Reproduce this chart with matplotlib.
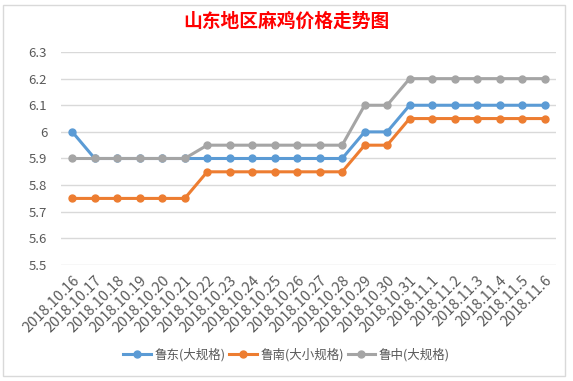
import matplotlib.pyplot as plt
from matplotlib.patches import Rectangle

plt.rcParams['font.family'] = ['Noto Sans CJK SC', 'DejaVu Sans']

dates = ['2018.10.16', '2018.10.17', '2018.10.18', '2018.10.19', '2018.10.20',
         '2018.10.21', '2018.10.22', '2018.10.23', '2018.10.24', '2018.10.25',
         '2018.10.26', '2018.10.27', '2018.10.28', '2018.10.29', '2018.10.30',
         '2018.10.31', '2018.11.1', '2018.11.2', '2018.11.3', '2018.11.4',
         '2018.11.5', '2018.11.6']
ludong = [6.0, 5.9, 5.9, 5.9, 5.9, 5.9, 5.9, 5.9, 5.9, 5.9, 5.9,
          5.9, 5.9, 6.0, 6.0, 6.1, 6.1, 6.1, 6.1, 6.1, 6.1, 6.1]
lunan = [5.75, 5.75, 5.75, 5.75, 5.75, 5.75, 5.85, 5.85, 5.85, 5.85, 5.85,
         5.85, 5.85, 5.95, 5.95, 6.05, 6.05, 6.05, 6.05, 6.05, 6.05, 6.05]
luzhong = [5.9, 5.9, 5.9, 5.9, 5.9, 5.9, 5.95, 5.95, 5.95, 5.95, 5.95,
           5.95, 5.95, 6.1, 6.1, 6.2, 6.2, 6.2, 6.2, 6.2, 6.2, 6.2]
names = ['鲁东(大规格)', '鲁南(大小规格)', '鲁中(大规格)']
colors = ['#5B9BD5', '#ED7D31', '#A5A5A5']

fig = plt.figure(figsize=(5.73, 3.81), dpi=100)
fig.patches.append(Rectangle((0.006, 0.012), 0.98, 0.975, transform=fig.transFigure,
                             fill=False, edgecolor='#D9D9D9', lw=1))
ax = fig.add_axes([0.1065, 0.3045, 0.8635, 0.559])

x = list(range(len(dates)))
for ys, name, c in zip([ludong, lunan, luzhong], names, colors):
    ax.plot(x, ys, '-o', color=c, lw=2.2, ms=5, label=name)

ax.set_xlim(-0.5, len(dates) - 0.5)
ax.set_ylim(5.5, 6.3)
ax.set_yticks([5.5, 5.6, 5.7, 5.8, 5.9, 6.0, 6.1, 6.2, 6.3])
ax.set_yticklabels(['5.5', '5.6', '5.7', '5.8', '5.9', '6', '6.1', '6.2', '6.3'])
ax.set_xticks(x)
ax.set_xticklabels(dates, rotation=45, ha='right', rotation_mode='anchor')
ax.tick_params(axis='both', length=0, labelcolor='#595959')
ax.tick_params(axis='x', labelsize=10.5, pad=6)
ax.tick_params(axis='y', labelsize=9.5, pad=10)
ax.grid(axis='y', color='#D9D9D9', lw=1)
ax.set_axisbelow(True)
for s in ax.spines.values():
    s.set_visible(False)

fig.text(0.5, 0.945, '山东地区麻鸡价格走势图', ha='center', va='center',
         color='red', fontsize=13.5, fontweight='bold')
fig.legend(loc='center', bbox_to_anchor=(0.5, 0.068), ncol=3, frameon=False,
           fontsize=9, labelcolor='#595959', handlelength=2.2, columnspacing=0.3,
           handletextpad=0.3)

fig.savefig('out.png', dpi=100)
